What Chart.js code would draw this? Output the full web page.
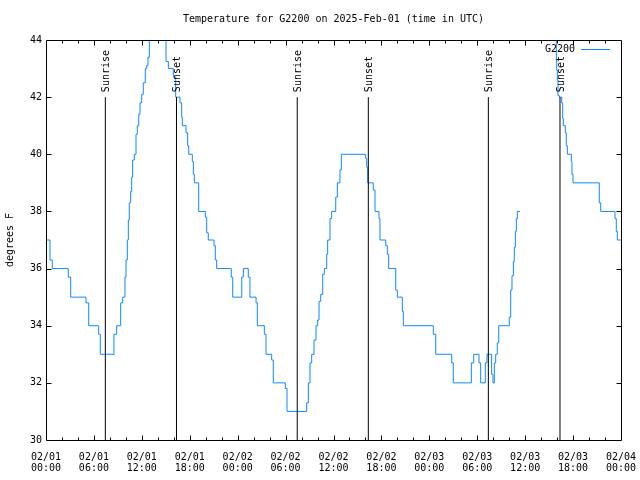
<!DOCTYPE html>
<html><head><meta charset="utf-8">
<script src="https://cdn.jsdelivr.net/npm/chart.js@4"></script>
<style>html,body{margin:0;padding:0;background:#fff;}canvas{display:block;}</style>
</head><body>
<canvas id="c" width="640" height="480"></canvas>
<script>
const titleText = 'Temperature for G2200 on 2025-Feb-01 (time in UTC)';
const seriesName = 'G2200';
const yAxisLabel = 'degrees F';

// hours since 02/01 00:00 UTC at which the reading changes, and the new reading
const hours = [0,0.50,0.79,2.79,3.09,5.01,5.35,6.60,6.80,8.51,8.85,9.35,9.60,9.89,10.02,10.18,10.31,10.43,10.60,10.73,10.85,11.06,11.27,11.43,11.61,11.77,11.98,12.18,12.43,12.61,12.77,12.94,13.27,13.65,14.40,14.78,15.03,15.32,15.94,16.24,16.78,16.99,17.07,17.53,17.74,17.87,18.32,18.45,18.57,19.12,19.95,20.12,20.32,21.04,21.20,21.37,23.20,23.38,24.51,24.71,25.33,25.54,26.30,26.46,27.34,27.55,28.26,28.46,29.97,30.18,32.64,32.85,33.06,33.27,33.56,33.81,34.02,34.19,34.40,34.65,34.85,35.15,35.27,35.56,35.77,36.28,36.48,36.81,36.98,40.03,40.16,40.28,40.98,41.20,41.70,41.82,42.54,42.74,42.91,43.79,43.99,44.62,44.74,48.50,48.80,50.80,51.00,53.26,53.56,54.22,54.43,55.01,55.22,55.80,55.97,56.14,56.31,56.51,56.69,58.01,58.19,58.35,58.52,58.64,58.77,58.89,59.02,59.35,61.50,63.70,63.90,63.95,64.03,64.11,64.28,64.57,64.70,64.78,65.03,65.15,65.28,65.78,65.86,65.99,69.28,69.46,71.25,71.41,71.54,72.00];
const tempF = [37,36.3,36,35.7,35,34.8,34,33.7,33,33.7,34,34.8,35,35.7,36.3,37,37.7,38.3,38.7,39.2,39.8,40,40.7,41,41.4,41.8,42.1,42.5,43,43.1,43.4,44,44.6,45,45,44.6,43.25,43,42.7,42,41.8,41.3,41,40.75,40.3,40,39.75,39.3,39,38,37.8,37.25,37,36.8,36.3,36,35.7,35,35.7,36,35.7,35,34.8,34,33.7,33,32.8,32,31.8,31,31.3,32,32.7,33,33.5,34,34.2,34.85,35.1,35.8,36,36.5,37,37.75,38,38.5,39,39.45,40,39.85,39.55,39,38.75,38,37.75,37,36.8,36.5,36,35.25,35,34.5,34,33.7,33,32.7,32,32.7,33,32.7,32,32.7,33,32.3,32,32.7,33,33.4,34,34.3,35.25,35.75,36.25,36.75,37.3,37.75,38,38,null,44.8,43.3,42.95,42.6,42.05,42,41.8,41.25,41,40.75,40.3,40,39.75,39.3,39,38.3,38,37.75,37.3,37,37];

const sunriseHours = [7.43, 31.46, 55.39];
const sunsetHours = [16.34, 40.36, 64.36];
const xTickDates = ['02/01','02/01','02/01','02/01','02/02','02/02','02/02','02/02','02/03','02/03','02/03','02/03','02/04'];
const xTickTimes = ['00:00','06:00','12:00','18:00','00:00','06:00','12:00','18:00','00:00','06:00','12:00','18:00','00:00'];
const yTickValues = [30,32,34,36,38,40,42,44];

const FONT = 'DejaVu Sans Mono';
const lineColor = 'rgb(16,136,255)';

const sunDatasets = [];
sunriseHours.forEach(h => sunDatasets.push({ label: 'Sunrise', data: [{x:h,y:30},{x:h,y:42}], borderColor:'#000', borderWidth:1, pointRadius:0, sunLabel:'Sunrise' }));
sunsetHours.forEach(h => sunDatasets.push({ label: 'Sunset', data: [{x:h,y:30},{x:h,y:42}], borderColor:'#000', borderWidth:1, pointRadius:0, sunLabel:'Sunset' }));

const tempData = hours.map((h,i) => ({x:h, y:tempF[i]}));

const decor = {
  id: 'decor',
  afterDatasetsDraw(chart) {
    const {ctx, chartArea: a, scales:{x, y}} = chart;
    ctx.save();
    ctx.strokeStyle = '#000';
    ctx.lineWidth = 1;
    const L = Math.round(a.left)+0.5, R = Math.round(a.right)+0.5, T = Math.round(a.top)+0.5, B = Math.round(a.bottom)+0.5;
    ctx.beginPath();
    ctx.rect(L, T, R-L, B-T);
    for (let h = 2; h < 72; h += 2) {
      const px = Math.round(x.getPixelForValue(h)) + 0.5;
      const len = (h % 6 === 0) ? 5 : 3;
      ctx.moveTo(px, B); ctx.lineTo(px, B - len);
      ctx.moveTo(px, T); ctx.lineTo(px, T + len);
    }
    yTickValues.forEach(v => {
      if (v === 30 || v === 44) return;
      const py = Math.round(y.getPixelForValue(v)) + 0.5;
      ctx.moveTo(L, py); ctx.lineTo(L + 5, py);
      ctx.moveTo(R, py); ctx.lineTo(R - 5, py);
    });
    ctx.stroke();

    ctx.fillStyle = '#000';
    ctx.font = '10px "' + FONT + '"';
    chart.data.datasets.forEach(ds => {
      if (!ds.sunLabel) return;
      const px = x.getPixelForValue(ds.data[0].x);
      const py = y.getPixelForValue(42) - 5;
      ctx.save();
      ctx.translate(px + 1, py);
      ctx.rotate(-Math.PI/2);
      ctx.textAlign = 'left';
      ctx.textBaseline = 'middle';
      ctx.fillText(ds.sunLabel, 0, 0);
      ctx.restore();
    });
    ctx.textAlign = 'right';
    ctx.textBaseline = 'middle';
    ctx.fillText(seriesName, 575, 49);
    ctx.strokeStyle = lineColor;
    ctx.beginPath(); ctx.moveTo(581, 49.5); ctx.lineTo(610, 49.5); ctx.stroke();
    ctx.textAlign = 'center';
    ctx.fillText(titleText, (a.left + a.right) / 2, 19);
    ctx.save();
    ctx.translate(10, (a.top + a.bottom) / 2);
    ctx.rotate(-Math.PI/2);
    ctx.textAlign = 'center';
    ctx.textBaseline = 'middle';
    ctx.fillText(yAxisLabel, 0, 0);
    ctx.restore();
    ctx.restore();
  }
};

new Chart(document.getElementById('c'), {
  type: 'line',
  data: {
    datasets: [...sunDatasets, {
      label: seriesName, data: tempData, borderColor: lineColor, borderWidth: 1,
      pointRadius: 0, stepped: true, spanGaps: false, clip: 0
    }]
  },
  options: {
    responsive: false, animation: false, devicePixelRatio: 1,
    layout: { padding: { left: 0, top: 40, right: 19, bottom: 0 } },
    plugins: { legend: { display: false }, tooltip: { enabled: false }, title: { display: false } },
    scales: {
      x: {
        type: 'linear', min: 0, max: 72,
        grid: { display: false, drawTicks: false }, border: { display: false },
        ticks: {
          stepSize: 2, autoSkip: false, maxRotation: 0, minRotation: 0, padding: 12, color: '#000',
          font: { family: FONT, size: 10, lineHeight: 1.1 },
          callback: v => (v % 6 === 0) ? [xTickDates[v/6], xTickTimes[v/6]] : ''
        },
        afterFit: s => { s.height = 40; s.paddingLeft = 0; s.paddingRight = 0; }
      },
      y: {
        type: 'linear', min: 30, max: 44,
        grid: { display: false, drawTicks: false }, border: { display: false },
        ticks: { stepSize: 2, padding: 4, color: '#000', font: { family: FONT, size: 10 },
          callback: v => yTickValues.includes(v) ? String(v) : '' },
        afterFit: s => { s.width = 46; s.paddingTop = 0; s.paddingBottom = 0; }
      }
    }
  },
  plugins: [decor]
});
</script>
</body></html>
